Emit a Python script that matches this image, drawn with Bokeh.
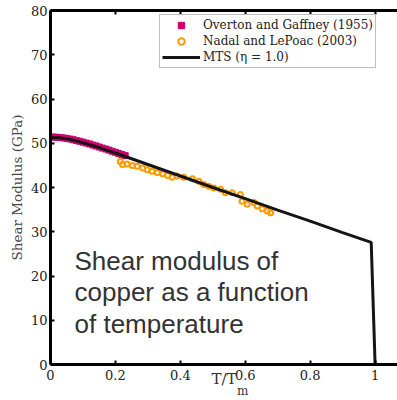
from bokeh.plotting import figure
from bokeh.models import (Range1d, LinearAxis, FixedTicker, Legend, LegendItem, Label,
                          CustomLabelingPolicy)
from bokeh.embed import file_html
from bokeh.resources import INLINE

# ---------------- data ----------------
overton_t = [0.00, 0.01, 0.02, 0.03, 0.04, 0.05, 0.06, 0.07, 0.08, 0.09, 0.10, 0.11,
             0.12, 0.13, 0.14, 0.15, 0.16, 0.17, 0.18, 0.19, 0.20, 0.21, 0.22, 0.23]
overton_g = [51.4, 51.4, 51.35, 51.3, 51.2, 51.1, 50.95, 50.8, 50.6, 50.45, 50.25, 50.05,
             49.85, 49.6, 49.4, 49.15, 48.9, 48.7, 48.45, 48.2, 47.95, 47.7, 47.45, 47.2]

nadal_t = [0.215, 0.222, 0.236, 0.252, 0.267, 0.284, 0.298, 0.313, 0.329, 0.346, 0.361,
           0.375, 0.390, 0.411, 0.437, 0.457, 0.472, 0.488, 0.503, 0.524, 0.539, 0.560,
           0.585, 0.590, 0.606, 0.627, 0.637, 0.652, 0.668, 0.678]
nadal_g = [45.9, 45.2, 45.3, 45.0, 44.8, 44.4, 44.0, 43.7, 43.4, 43.1, 42.7,
           42.3, 42.6, 42.3, 42.0, 41.4, 40.7, 40.3, 39.9, 39.6, 38.8, 38.8,
           38.4, 36.9, 36.2, 36.6, 35.8, 35.2, 34.7, 34.3]

mts_t = [0.0, 0.025, 0.05, 0.075, 0.1, 0.125, 0.15, 0.175, 0.2, 0.3, 0.4, 0.5,
         0.6, 0.7, 0.8, 0.9, 0.988, 1.0]
mts_g = [51.3, 51.25, 51.0, 50.6, 50.1, 49.6, 49.0, 48.4, 47.8, 45.2, 42.6, 40.0,
         37.5, 34.9, 32.4, 29.8, 27.6, 0.0]

x_ticks = [0, 0.2, 0.4, 0.6, 0.8, 1]
x_tick_labels = ["0", "0.2", "0.4", "0.6", "0.8", "1"]
y_ticks = [0, 10, 20, 30, 40, 50, 60, 70, 80]
y_tick_labels = ["0", "10", "20", "30", "40", "50", "60", "70", "80"]

series_names = ["Overton and Gaffney (1955)", "Nadal and LePoac (2003)", "MTS (\u03b7 = 1.0)"]
caption_lines = ["Shear modulus of", "copper as a function", "of temperature"]
y_label = "Shear Modulus (GPa)"
x_label_main = "T/T"
x_label_sub = "m"
x_label_sub_pos = 0.592   # where the subscript sits along the x axis

MAGENTA = "#cc006e"
ORANGE = "#ff9a00"
LINE = "#151515"
SERIF = "DejaVu Serif"

# ---------------- figure ----------------
p = figure(width=397, height=400, output_backend="svg", toolbar_location=None,
           x_range=Range1d(0, 1.069), y_range=Range1d(0, 80),
           min_border_left=50, min_border_right=0, min_border_top=10,
           min_border_bottom=34)
p.xgrid.visible = False
p.ygrid.visible = False
p.outline_line_color = None
p.background_fill_color = "white"

top_axis = LinearAxis()
p.add_layout(top_axis, "above")
bottom_axis = p.below[0]
left_axis = p.left[0]

for ax in (top_axis, bottom_axis):
    ax.ticker = FixedTicker(ticks=x_ticks)
    ax.major_label_overrides = dict(zip(x_ticks, x_tick_labels))
left_axis.ticker = FixedTicker(ticks=y_ticks)
left_axis.major_label_overrides = dict(zip(y_ticks, y_tick_labels))

for ax in (top_axis, bottom_axis, left_axis):
    ax.axis_line_width = 3
    ax.axis_line_color = "black"
    ax.major_tick_in = 4
    ax.major_tick_out = 0
    ax.major_tick_line_width = 2
    ax.major_tick_line_color = "black"
    ax.minor_tick_line_color = None
    ax.major_label_text_font = SERIF
    ax.major_label_text_font_size = "13px"
    ax.major_label_text_color = "#222222"

# top border: ticks only, no labels
top_axis.major_label_text_font_size = "0px"
top_axis.major_label_standoff = 0
top_axis.major_label_policy = CustomLabelingPolicy(code="""
const all = [...indices]
for (const i of all) { indices.unset(i) }
return indices
""")
bottom_axis.major_label_standoff = 5
left_axis.major_label_standoff = 3

left_axis.axis_label = y_label
left_axis.axis_label_text_font = SERIF
left_axis.axis_label_text_font_size = "13.5px"
left_axis.axis_label_text_font_style = "normal"
left_axis.axis_label_text_color = "#444444"
left_axis.axis_label_standoff = 3

bottom_axis.axis_label = x_label_main
bottom_axis.axis_label_text_font = SERIF
bottom_axis.axis_label_text_font_size = "15px"
bottom_axis.axis_label_text_font_style = "normal"
bottom_axis.axis_label_text_color = "#333333"
bottom_axis.axis_label_standoff = -13

# subscript "m" of the x label, carried by a bare extra axis below
sub_axis = LinearAxis(ticker=FixedTicker(ticks=[x_label_sub_pos]),
                      major_label_overrides={x_label_sub_pos: x_label_sub},
                      axis_line_color=None, major_tick_line_color=None,
                      minor_tick_line_color=None, major_tick_in=0, major_tick_out=0,
                      major_label_standoff=-7,
                      major_label_text_font=SERIF, major_label_text_font_size="12px",
                      major_label_text_color="#333333")
p.add_layout(sub_axis, "below")

# ---------------- data marks ----------------
r1 = p.scatter(overton_t, overton_g, marker="square", size=6, fill_color=MAGENTA,
               line_color=MAGENTA, line_width=1)
r2 = p.scatter(nadal_t, nadal_g, marker="circle", size=5, fill_color=None,
               line_color=ORANGE, line_width=2)
r3 = p.line(mts_t, mts_g, line_color=LINE, line_width=3)

legend = Legend(items=[LegendItem(label=series_names[0], renderers=[r1]),
                       LegendItem(label=series_names[1], renderers=[r2]),
                       LegendItem(label=series_names[2], renderers=[r3])],
                location=(109, 296), orientation="vertical",
                label_text_font=SERIF, label_text_font_size="12px",
                label_text_color="#222222",
                label_height=16, glyph_height=16, glyph_width=38, spacing=0,
                padding=2, margin=0, label_standoff=3,
                border_line_color="#808080", border_line_width=1,
                background_fill_color="white", background_fill_alpha=1)
p.add_layout(legend)

# ---------------- texts ----------------
for line_text, yy in zip(caption_lines, [23.4, 16.3, 9.2]):
    p.add_layout(Label(x=0.074, y=yy, text=line_text, text_font="Liberation Sans",
                       text_font_size="26px", text_color="#333333",
                       text_baseline="alphabetic", text_align="left"))

open("out.html", "w").write(file_html(p, INLINE))
